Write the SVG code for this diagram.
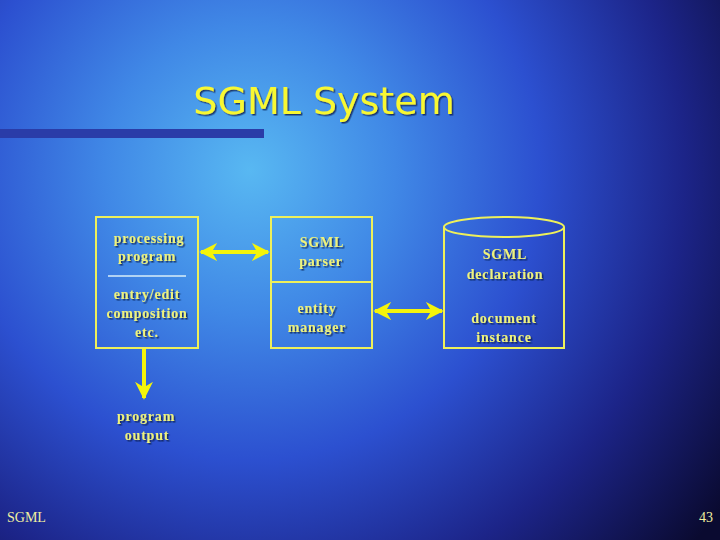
<svg xmlns="http://www.w3.org/2000/svg" width="720" height="540" viewBox="0 0 720 540">
<defs>
<radialGradient id="bg" cx="250" cy="170" r="580" gradientUnits="userSpaceOnUse">
<stop offset="0" stop-color="#58b8f2"/>
<stop offset="0.25" stop-color="#4088e6"/>
<stop offset="0.5" stop-color="#2c50d0"/>
<stop offset="0.75" stop-color="#1c2488"/>
<stop offset="1" stop-color="#0a0a30"/>
</radialGradient>
<marker id="ah" viewBox="0 0 10 10" refX="9" refY="5" markerWidth="4.5" markerHeight="4.5" orient="auto-start-reverse" markerUnits="strokeWidth">
<path d="M0,0 L10,5 L0,10 L3,5 Z" fill="#f4f40a"/>
</marker>
<filter id="sh" x="-10%" y="-10%" width="130%" height="130%">
<feDropShadow dx="1.5" dy="1.5" stdDeviation="0.6" flood-color="#102050" flood-opacity="0.8"/>
</filter>
</defs>
<style>
.box{fill:none;stroke:#eef05a;stroke-width:2}
.lbl{font-family:"Liberation Serif","DejaVu Serif",serif;font-weight:bold;font-size:14px;fill:#eef27c;text-anchor:middle;letter-spacing:0.8px;filter:url(#sh)}
.con{stroke:#f4f40a;stroke-width:4;fill:none}
.foot{font-family:"Liberation Serif",serif;font-size:14px;fill:#f0f0a0}
</style>
<rect width="720" height="540" fill="url(#bg)"/>
<text x="324" y="114" font-family="Tahoma,'DejaVu Sans',sans-serif" font-size="38" fill="#f8f830" text-anchor="middle" filter="url(#sh)">SGML System</text>
<rect x="0" y="129" width="264" height="9" fill="#2a3ca8"/>
<g id="processing">
<rect class="box" x="96" y="217" width="102" height="131"/>
<line x1="108" y1="276" x2="186" y2="276" stroke="#d8eef8" stroke-width="1.5"/>
<text class="lbl" x="149" y="243">processing</text>
<text class="lbl" x="147" y="261">program</text>
<text class="lbl" x="147" y="299">entry/edit</text>
<text class="lbl" x="147" y="318">composition</text>
<text class="lbl" x="147" y="337">etc.</text>
</g>
<g id="parser">
<rect class="box" x="271" y="217" width="101" height="131"/>
<line x1="271" y1="282" x2="372" y2="282" stroke="#eef05a" stroke-width="2"/>
<text class="lbl" x="322" y="247">SGML</text>
<text class="lbl" x="321" y="266">parser</text>
<text class="lbl" x="317" y="313">entity</text>
<text class="lbl" x="317" y="332">manager</text>
</g>
<g id="declaration">
<path class="box" d="M444,227 L444,348 L564,348 L564,227"/>
<ellipse class="box" cx="504" cy="227" rx="60" ry="10"/>
<text class="lbl" x="505" y="259">SGML</text>
<text class="lbl" x="505" y="279">declaration</text>
<text class="lbl" x="504" y="323">document</text>
<text class="lbl" x="504" y="342">instance</text>
</g>
<g id="output">
<text class="lbl" x="146" y="421">program</text>
<text class="lbl" x="147" y="440">output</text>
</g>
<g id="connectors">
<line class="con" x1="201" y1="252" x2="268" y2="252" marker-start="url(#ah)" marker-end="url(#ah)"/>
<line class="con" x1="375" y1="311" x2="442" y2="311" marker-start="url(#ah)" marker-end="url(#ah)"/>
<line class="con" x1="144" y1="349" x2="144" y2="398" marker-end="url(#ah)"/>
</g>
<text class="foot" x="7" y="522">SGML</text>
<text class="foot" x="713" y="522" text-anchor="end">43</text>
</svg>
